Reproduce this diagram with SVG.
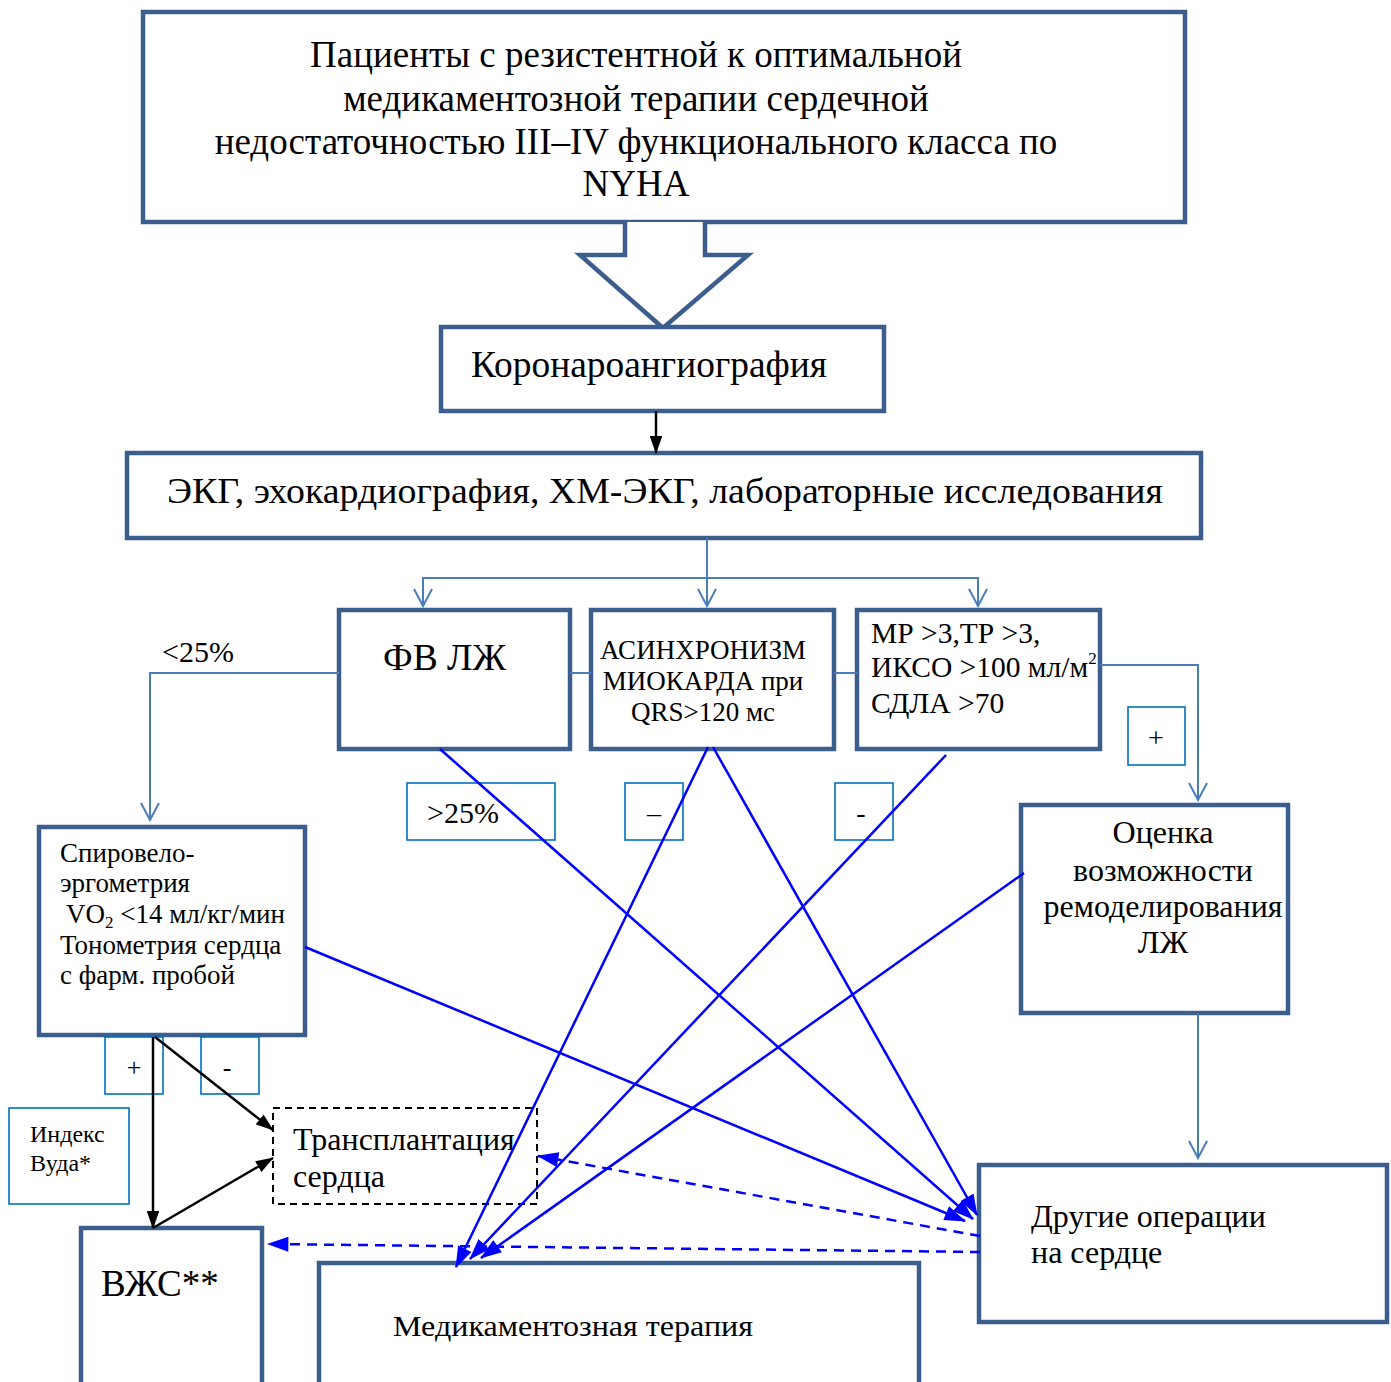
<svg xmlns="http://www.w3.org/2000/svg" width="1391" height="1382" viewBox="0 0 1391 1382">
<defs>
<style>
.box{fill:#fff;stroke:#3b5e8c;stroke-width:4.5}
.lbl{fill:#fff;stroke:#0070c0;stroke-width:1.6}
.t{font-family:"Liberation Serif","Times New Roman",serif;fill:#000}
.lc{fill:none;stroke:#4a7ebb;stroke-width:2}
.bl{fill:none;stroke:#0000ff;stroke-width:2.5}
.bk{fill:none;stroke:#000;stroke-width:2.5}
</style>
<marker id="ov" viewBox="0 0 20 20" refX="18" refY="10" markerWidth="20" markerHeight="20" markerUnits="userSpaceOnUse" orient="auto">
<polyline points="1,1 18,10 1,19" fill="none" stroke="#4a7ebb" stroke-width="2"/>
</marker>
<marker id="fb" viewBox="0 0 20 14" refX="19" refY="7" markerWidth="22" markerHeight="15" markerUnits="userSpaceOnUse" orient="auto">
<path d="M0,0 L20,7 L0,14 Z" fill="#0000ff"/>
</marker>
<marker id="fk" viewBox="0 0 20 14" refX="19" refY="7" markerWidth="18" markerHeight="13" markerUnits="userSpaceOnUse" orient="auto">
<path d="M0,0 L20,7 L0,14 Z" fill="#000"/>
</marker>
</defs>

<g id="top">
<rect class="box" x="143" y="12" width="1042" height="210"/>
<text class="t" font-size="37" text-anchor="middle"><tspan x="636" y="67">Пациенты с резистентной к оптимальной</tspan><tspan x="636" y="111">медикаментозной терапии сердечной</tspan><tspan x="636" y="154">недостаточностью III–IV функционального класса по</tspan><tspan x="636" y="196">NYHA</tspan></text>
</g>

<g id="bigarrow">
<path d="M625,222 L625,255 L580,255 L663,328 L748,255 L705,255 L705,222" fill="#fff" stroke="#3b5e8c" stroke-width="4.5"/>
</g>

<g id="kag">
<rect class="box" x="441" y="327" width="443" height="84"/>
<text class="t" font-size="37" x="471" y="377" textLength="356" lengthAdjust="spacingAndGlyphs">Коронароангиография</text>
</g>

<g id="ekg">
<rect class="box" x="127" y="453" width="1074" height="85"/>
<text class="t" font-size="35" x="167" y="503" textLength="996" lengthAdjust="spacingAndGlyphs">ЭКГ, эхокардиография, ХМ-ЭКГ, лабораторные исследования</text>
</g>

<g id="fv">
<rect class="box" x="339" y="610" width="231" height="139"/>
<text class="t" font-size="37.5" x="383" y="670">ФВ ЛЖ</text>
</g>

<g id="async">
<rect class="box" x="591" y="610" width="243" height="139"/>
<text class="t" font-size="27" text-anchor="middle"><tspan x="703" y="659">АСИНХРОНИЗМ</tspan><tspan x="703" y="690">МИОКАРДА при</tspan><tspan x="703" y="721">QRS&gt;120 мс</tspan></text>
</g>

<g id="mr">
<rect class="box" x="857" y="610" width="243" height="139"/>
<text class="t" font-size="29.5"><tspan x="871" y="643">МР &gt;3,ТР &gt;3,</tspan><tspan x="871" y="677">ИКСО &gt;100 мл/м</tspan><tspan font-size="17" dy="-13">2</tspan><tspan x="871" y="713">СДЛА &gt;70</tspan></text>
</g>

<g id="ocenka">
<rect class="box" x="1021" y="805" width="267" height="208"/>
<text class="t" font-size="32" text-anchor="middle"><tspan x="1163" y="843">Оценка</tspan><tspan x="1163" y="881">возможности</tspan><tspan x="1163" y="917">ремоделирования</tspan><tspan x="1163" y="953">ЛЖ</tspan></text>
</g>

<g id="other">
<rect class="box" x="979" y="1165" width="408" height="157"/>
<text class="t" font-size="32"><tspan x="1031" y="1227">Другие операции</tspan><tspan x="1031" y="1263">на сердце</tspan></text>
</g>

<g id="spiro">
<rect class="box" x="39" y="827" width="266" height="208"/>
<text class="t" font-size="27"><tspan x="60" y="862">Спировело-</tspan><tspan x="60" y="892">эргометрия</tspan><tspan x="66" y="923">VO</tspan><tspan font-size="17" dy="5">2</tspan><tspan dy="-5"> &lt;14 мл/кг/мин</tspan><tspan x="60" y="954">Тонометрия сердца</tspan><tspan x="60" y="984">с фарм. пробой</tspan></text>
</g>

<g id="wood">
<rect class="lbl" x="9" y="1108" width="120" height="96"/>
<text class="t" font-size="24"><tspan x="30" y="1142">Индекс</tspan><tspan x="30" y="1171">Вуда*</tspan></text>
</g>

<g id="transpl">
<rect x="273" y="1108" width="264" height="96" fill="#fff" stroke="#000" stroke-width="2" stroke-dasharray="7,5"/>
<text class="t" font-size="32"><tspan x="293" y="1150">Трансплантация</tspan><tspan x="293" y="1187">сердца</tspan></text>
</g>

<g id="vad">
<rect class="box" x="81" y="1228" width="181" height="160"/>
<text class="t" font-size="37" x="101" y="1296">ВЖС**</text>
</g>

<g id="med">
<rect class="box" x="319" y="1263" width="600" height="125"/>
<text class="t" font-size="30" x="393" y="1336" textLength="360" lengthAdjust="spacingAndGlyphs">Медикаментозная терапия</text>
</g>

<g id="labels">
<text class="t" font-size="30" x="162" y="662">&lt;25%</text>
<rect class="lbl" x="407" y="783" width="148" height="57"/>
<text class="t" font-size="30" x="427" y="823">&gt;25%</text>
<rect class="lbl" x="625" y="783" width="58" height="57"/>
<text class="t" font-size="28" x="654" y="822" text-anchor="middle">–</text>
<rect class="lbl" x="835" y="783" width="58" height="57"/>
<text class="t" font-size="28" x="861" y="822" text-anchor="middle">-</text>
<rect class="lbl" x="1128" y="707" width="57" height="58"/>
<text class="t" font-size="28" x="1156" y="747" text-anchor="middle">+</text>
<rect class="lbl" x="105" y="1037" width="58" height="57"/>
<text class="t" font-size="26" x="134" y="1076" text-anchor="middle">+</text>
<rect class="lbl" x="201" y="1037" width="58" height="57"/>
<text class="t" font-size="26" x="227" y="1076" text-anchor="middle">-</text>
</g>

<g id="connectors">
<line x1="656" y1="411" x2="656" y2="453" class="bk" marker-end="url(#fk)"/>
<line x1="707" y1="538" x2="707" y2="606" class="lc" marker-end="url(#ov)"/>
<polyline points="423,606 423,578 978,578 978,606" class="lc"/>
<line x1="423" y1="590" x2="423" y2="606" class="lc" marker-end="url(#ov)"/>
<line x1="978" y1="590" x2="978" y2="606" class="lc" marker-end="url(#ov)"/>
<polyline points="339,673 150,673 150,820" class="lc" marker-end="url(#ov)"/>
<line x1="570" y1="673" x2="591" y2="673" class="lc"/>
<line x1="834" y1="673" x2="857" y2="673" class="lc"/>
<polyline points="1100,665 1198,665 1198,800" class="lc" marker-end="url(#ov)"/>
<line x1="1198" y1="1013" x2="1198" y2="1158" class="lc" marker-end="url(#ov)"/>

<line x1="440" y1="749" x2="973" y2="1219" class="bl" marker-end="url(#fb)"/>
<line x1="708" y1="747" x2="456" y2="1267" class="bl" marker-end="url(#fb)"/>
<line x1="713" y1="747" x2="977" y2="1215" class="bl" marker-end="url(#fb)"/>
<line x1="946" y1="755" x2="470" y2="1259" class="bl" marker-end="url(#fb)"/>
<line x1="1024" y1="873" x2="481" y2="1258" class="bl" marker-end="url(#fb)"/>
<line x1="305" y1="947" x2="965" y2="1221" class="bl" marker-end="url(#fb)"/>
<line x1="980" y1="1236" x2="538" y2="1156" class="bl" stroke-dasharray="10,7" marker-end="url(#fb)"/>
<line x1="980" y1="1252" x2="268" y2="1244" class="bl" stroke-dasharray="10,7" marker-end="url(#fb)"/>

<line x1="153" y1="1037" x2="153" y2="1228" class="bk" marker-end="url(#fk)"/>
<line x1="155" y1="1037" x2="273" y2="1130" class="bk" marker-end="url(#fk)"/>
<line x1="153" y1="1228" x2="273" y2="1158" class="bk" marker-end="url(#fk)"/>
</g>
</svg>
